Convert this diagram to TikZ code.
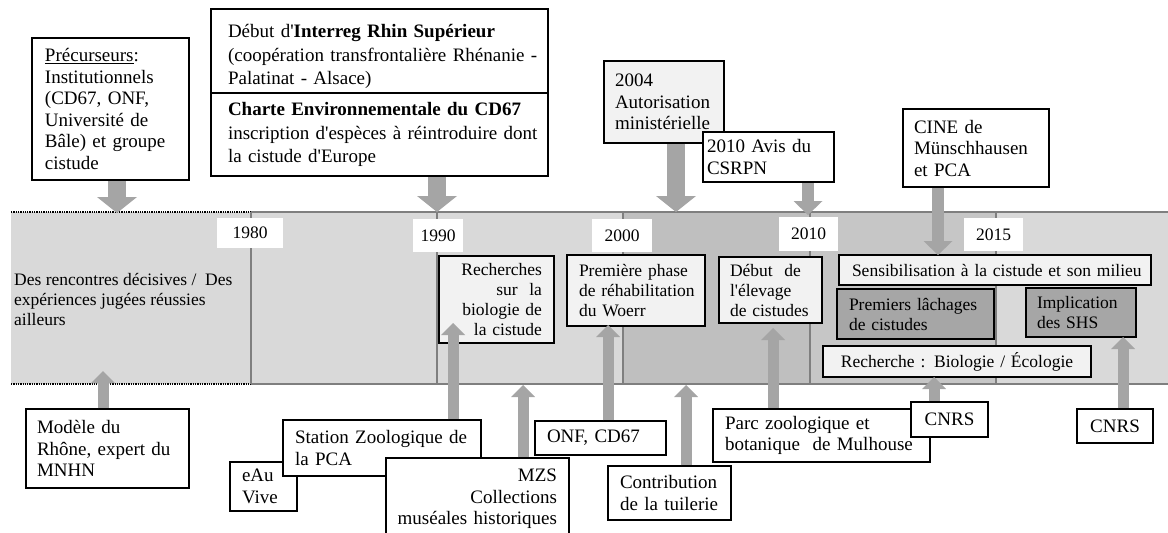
\documentclass[tikz,border=0pt]{standalone}
\usepackage{fontspec}
\setmainfont{Liberation Serif}[Ligatures=TeXOff]
\usetikzlibrary{arrows.meta}
\definecolor{segA}{HTML}{D9D9D9}
\definecolor{segB}{HTML}{BFBFBF}
\definecolor{segC}{HTML}{C6C6C6}
\definecolor{bandline}{HTML}{7F7F7F}
\definecolor{lightbox}{HTML}{F2F2F2}
\definecolor{darkbox}{HTML}{A6A6A6}
\definecolor{arrc}{HTML}{A5A5A5}
\newcommand\fA{\fontsize{19}{21.5}\selectfont}
\newcommand\fAw{\fontsize{19}{23.5}\selectfont}
\newcommand\fB{\fontsize{17.5}{20}\selectfont}
\begin{document}
\begin{tikzpicture}[x=1pt,y=-1pt,
  box/.style={draw=black, line width=1.5pt, fill=white, inner xsep=0pt, inner ysep=0pt,
    outer sep=0pt, anchor=north west, align=left, font=\fA},
  inband/.style={font=\fB},
  lpad/.style={execute at begin node={\leftskip=#1pt\relax}},
  rpad/.style={align=right, execute at begin node={\rightskip=#1pt\relax}},
  year/.style={fill=white, inner sep=0pt, outer sep=0pt, anchor=north west, font=\fB},
  arrB/.style={draw=arrc, line width=18pt, -{Triangle[width=40pt,length=16pt,line width=0pt]}, shorten <=0.75pt},
  arrM/.style={draw=arrc, line width=12pt, -{Triangle[width=29pt,length=14pt,line width=0pt]}, shorten <=0.75pt},
  arrS/.style={draw=arrc, line width=11pt, -{Triangle[width=24pt,length=12pt,line width=0pt]}, shorten <=0.75pt},
  sep/.style={draw=bandline, line width=1.5pt}
]
\useasboundingbox (0,0) rectangle (1168,533);
% ---- band ----
\fill[segA] (11,212) rectangle (251,384);
\fill[segA] (251,212) rectangle (437,384);
\fill[segA] (437,212) rectangle (623,384);
\fill[segB] (623,212) rectangle (810,384);
\fill[segC] (810,212) rectangle (996,384);
\fill[segA] (996,212) rectangle (1168,384);
\draw[densely dotted, line width=1.3pt] (11,212) -- (251,212);
\draw[densely dotted, line width=1.3pt] (11,384) -- (251,384);
\draw[sep] (251,212) -- (1168,212);
\draw[sep] (251,384) -- (1168,384);
\foreach \xx in {251,437,623,810,996} { \draw[sep] (\xx,212) -- (\xx,384); }
% ---- years ----
\node[year, minimum width=66pt, minimum height=30pt] (y1980) at (217,218) {1980};
\node[year, minimum width=50pt, minimum height=33pt] (y1990) at (413,219) {1990};
\node[year, minimum width=60pt, minimum height=33pt] (y2000) at (592,219) {2000};
\node[year, minimum width=59pt, minimum height=34pt] (y2010) at (779,217) {2010};
\node[year, minimum width=59pt, minimum height=33pt] (y2015) at (964,218) {2015};
% ---- first segment text ----
\node[inband, align=left, anchor=west, inner sep=0pt] (seg1txt) at (14,299)
  {Des rencontres décisives /~~Des\\expériences jugées réussies\\ailleurs};
% ---- boxes inside band ----
\node[box, inband, fill=lightbox, rpad=12, text width=115pt, minimum height=87pt] (rech) at (439,256)
  {Recherches\\sur~~la\\biologie de\\la cistude};
\node[box, inband, fill=lightbox, lpad=12, text width=138pt, minimum height=71pt] (prem) at (567,255)
  {Première phase\\de réhabilitation\\du Woerr};
\node[box, inband, fill=lightbox, lpad=11, text width=103pt, minimum height=66pt] (debut) at (719,257)
  {Début~~de\\l'élevage\\de cistudes};
\node[box, inband, fill=lightbox, lpad=13, text width=312pt, minimum height=30pt] (sens) at (839,255)
  {Sensibilisation à la cistude et son milieu};
\node[box, inband, fill=darkbox, lpad=12, text width=157pt, minimum height=50pt] (lach) at (837,289)
  {Premiers lâchages\\de cistudes};
\node[box, inband, fill=darkbox, lpad=11, text width=110pt, minimum height=49pt] (impl) at (1026,288)
  {Implication\\des SHS};
\node[box, inband, fill=lightbox, align=center, text width=268pt, minimum height=31pt] (rbe) at (823,346)
  {Recherche : Biologie / Écologie};
% ---- top boxes ----
\node[box, lpad=13, text width=157pt, minimum height=142pt] (prec) at (32,38)
  {\underline{Précurseurs}:\\Institutionnels\\(CD67, ONF,\\Université de\\Bâle) et groupe\\cistude};
\node[box, font=\fAw, lpad=17, text width=337pt, minimum height=84pt] (interreg) at (211,9)
  {\rule{0pt}{25pt}Début d'\textbf{Interreg Rhin Supérieur}\\(coopération transfrontalière Rhénanie -\\Palatinat - Alsace)};
\node[box, font=\fAw, lpad=17, text width=337pt, minimum height=83pt] (charte) at (211,93)
  {\textbf{Charte Environnementale du CD67}\\inscription d'espèces à réintroduire dont\\la cistude d'Europe};
\node[box, fill=lightbox, lpad=11, text width=120pt, minimum height=82pt] (y2004) at (604,61)
  {2004\\Autorisation\\ministérielle};
\node[box, lpad=4, text width=131pt, minimum height=50pt] (avis) at (703,132)
  {2010 Avis du\\CSRPN};
\node[box, lpad=11, text width=146pt, minimum height=78pt] (cine) at (903,109)
  {CINE de\\Münschhausen\\et PCA};
% ---- bottom boxes ----
\node[box, lpad=11, text width=163pt, minimum height=79pt] (modele) at (26,409)
  {Modèle du\\Rhône, expert du\\MNHN};
\node[box, lpad=12, text width=67pt, minimum height=49pt] (eau) at (230,462)
  {eAu\\Vive};
\node[box, lpad=12, text width=198pt, minimum height=56pt] (station) at (283,420)
  {Station Zoologique de\\la PCA};
\node[box, rpad=12, text width=183pt, minimum height=82pt] (mzs) at (386,458)
  {MZS\\Collections\\muséales historiques};
\node[box, lpad=12, text width=131pt, minimum height=34pt] (onf) at (535,421)
  {ONF, CD67};
\node[box, lpad=12, text width=123pt, minimum height=54pt] (contrib) at (608,466)
  {Contribution\\de la tuilerie};
\node[box, lpad=12, text width=217pt, minimum height=53pt] (parc) at (713,409)
  {Parc zoologique et\\botanique~~de Mulhouse};
\node[box, align=center, text width=77pt, minimum height=35pt] (cnrsA) at (911,402)
  {CNRS};
\node[box, align=center, text width=76pt, minimum height=34pt] (cnrsB) at (1077,409)
  {CNRS};
% ---- arrow end points ----
\coordinate (tPrec) at (117,213);
\coordinate (tCharte) at (437,212);
\coordinate (t2004) at (676,212);
\coordinate (tAvis) at (808,215);
\coordinate (tCine) at (938,255);
\coordinate (tModele) at (103,371);
\coordinate (tStation) at (453,323);
\coordinate (tMzs) at (523,385);
\coordinate (tOnf) at (608,325);
\coordinate (tContrib) at (686,385);
\coordinate (tParc) at (773,328);
\coordinate (tCnrsA) at (934,377);
\coordinate (tCnrsB) at (1123,337);
% ---- arrows ----
\draw[arrB] (prec.south -| tPrec) -- (tPrec);
\draw[arrB] (charte.south -| tCharte) -- (tCharte);
\draw[arrB] (y2004.south -| t2004) -- (t2004);
\draw[arrM] (avis.south -| tAvis) -- (tAvis);
\draw[arrM] (cine.south -| tCine) -- (tCine);
\draw[arrS] (modele.north -| tModele) -- (tModele);
\draw[arrS] (station.north -| tStation) -- (tStation);
\draw[arrS] (mzs.north -| tMzs) -- (tMzs);
\draw[arrS] (onf.north -| tOnf) -- (tOnf);
\draw[arrS] (contrib.north -| tContrib) -- (tContrib);
\draw[arrS] (parc.north -| tParc) -- (tParc);
\draw[arrS] (cnrsA.north -| tCnrsA) -- (tCnrsA);
\draw[arrS] (cnrsB.north -| tCnrsB) -- (tCnrsB);
\end{tikzpicture}
\end{document}
